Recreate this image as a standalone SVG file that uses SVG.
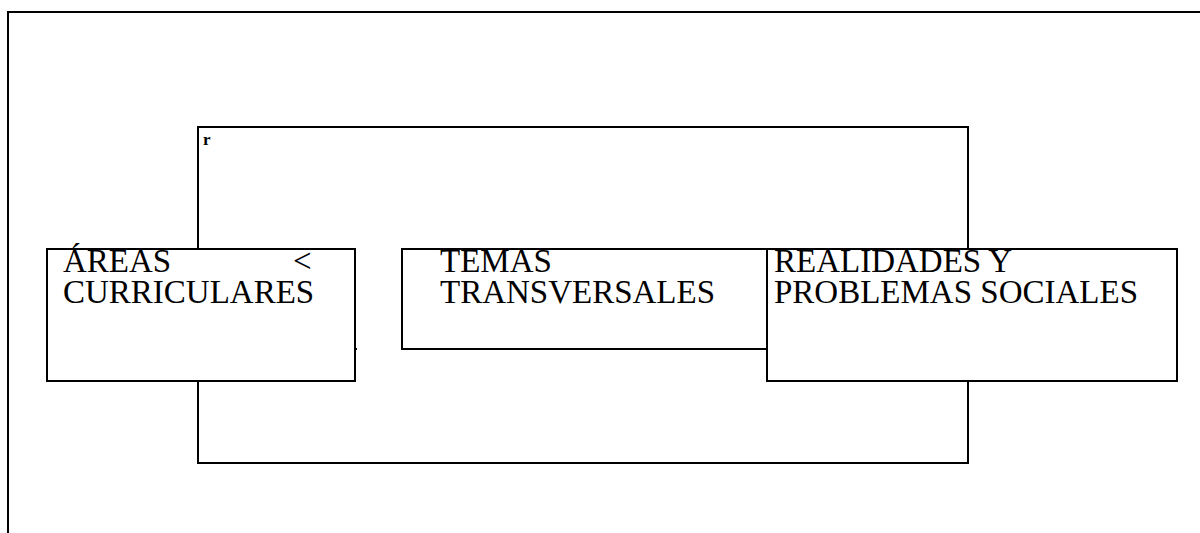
<svg xmlns="http://www.w3.org/2000/svg" width="1200" height="533" viewBox="0 0 1200 533">
  <style>
    .ln { fill: none; stroke: #000; stroke-width: 2; }
    .box { fill: #fff; stroke: #000; stroke-width: 2; }
    .lbl { font-family: 'Liberation Serif', 'Times New Roman', Times, serif; font-size: 33px; fill: #000; }
    .mark { font-family: 'Liberation Serif', 'Times New Roman', Times, serif; font-size: 17px; font-weight: bold; fill: #000; }
  </style>
  <rect width="1200" height="533" fill="#fff"/>

  <!-- page frame (runs off the right and bottom edges) -->
  <rect class="ln" x="8" y="12" width="1230" height="560"/>

  <!-- connectors: closed loop linking the three areas -->
  <g id="connectors">
    <rect class="ln" x="198" y="127" width="770" height="336"/>
    <text class="mark" x="203" y="145">r</text>
  </g>

  <g id="areas">
    <rect class="box" x="47" y="249" width="308" height="132"/>
    <line class="ln" x1="355" y1="349" x2="357" y2="349" stroke-width="1"/>
    <text class="lbl" x="63" y="272">ÁREAS</text>
    <text class="lbl" x="293" y="272">&lt;</text>
    <text class="lbl" x="63" y="303">CURRICULARES</text>
  </g>

  <g id="temas">
    <rect class="box" x="402" y="249" width="365" height="100"/>
    <text class="lbl" x="440" y="272">TEMAS</text>
    <text class="lbl" x="440" y="303">TRANSVERSALES</text>
  </g>

  <g id="realidades">
    <rect class="box" x="767" y="249" width="410" height="132"/>
    <text class="lbl" x="774" y="272">REALIDADES Y</text>
    <text class="lbl" x="774" y="303">PROBLEMAS SOCIALES</text>
  </g>
</svg>
